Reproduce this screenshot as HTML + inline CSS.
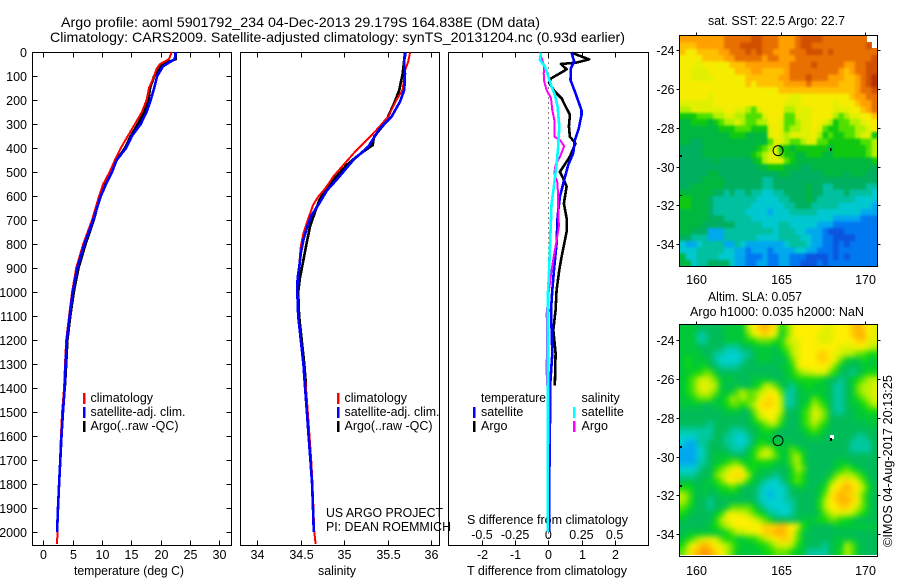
<!DOCTYPE html>
<html lang="en">
<head>
<meta charset="utf-8">
<title>Argo profile 5901792_234</title>
<style>
html,body{margin:0;padding:0;background:#fff;}
svg{display:block;font-family:"Liberation Sans",Arial,sans-serif;fill:#000;}
text{font-size:12.5px;}
</style>
</head>
<body>
<svg id="figure" width="900" height="580" viewBox="0 0 900 580" xmlns="http://www.w3.org/2000/svg">
  <defs>
    <clipPath id="sstClip"><rect x="680" y="36" width="197" height="230.5"/></clipPath>
    <clipPath id="slaClip"><rect x="680" y="325" width="197" height="230"/></clipPath>
    <filter id="sstBlur" filterUnits="userSpaceOnUse" x="660" y="16" width="240" height="270" color-interpolation-filters="sRGB"><feGaussianBlur stdDeviation="1.4"/></filter>
    <filter id="slaBlur" filterUnits="userSpaceOnUse" x="660" y="305" width="240" height="270" color-interpolation-filters="sRGB"><feGaussianBlur stdDeviation="2.8"/></filter>
  </defs>
  <rect x="0" y="0" width="900" height="580" fill="#fff"/>
  <text x="61" y="27" style="font-size:14px" textLength="479" lengthAdjust="spacingAndGlyphs">Argo profile: aoml 5901792_234 04-Dec-2013 29.179S 164.838E (DM data)</text>
  <text x="50" y="42" style="font-size:14px" textLength="575" lengthAdjust="spacingAndGlyphs">Climatology: CARS2009. Satellite-adjusted climatology: synTS_20131204.nc (0.93d earlier)</text>
  <text x="74" y="575" textLength="110" lengthAdjust="spacingAndGlyphs">temperature (deg C)</text>
  <text x="318" y="575" textLength="38" lengthAdjust="spacingAndGlyphs">salinity</text>
  <text x="467" y="575" textLength="160" lengthAdjust="spacingAndGlyphs">T difference from climatology</text>
  <text x="467" y="524" textLength="161" lengthAdjust="spacingAndGlyphs">S difference from climatology</text>
  <text x="326" y="517" textLength="117" lengthAdjust="spacingAndGlyphs">US ARGO PROJECT</text>
  <text x="326" y="531" textLength="125" lengthAdjust="spacingAndGlyphs">PI: DEAN ROEMMICH</text>
  <text x="90.5" y="402">climatology</text>
  <text x="90.5" y="416" textLength="95" lengthAdjust="spacingAndGlyphs">satellite-adj. clim.</text>
  <text x="90.5" y="430" textLength="88" lengthAdjust="spacingAndGlyphs">Argo(..raw -QC)</text>
  <text x="344.5" y="402">climatology</text>
  <text x="344.5" y="416" textLength="95" lengthAdjust="spacingAndGlyphs">satellite-adj. clim.</text>
  <text x="344.5" y="430" textLength="88" lengthAdjust="spacingAndGlyphs">Argo(..raw -QC)</text>
  <text x="481" y="402" textLength="65" lengthAdjust="spacingAndGlyphs">temperature</text>
  <text x="481" y="416">satellite</text>
  <text x="481" y="430">Argo</text>
  <text x="581.5" y="402">salinity</text>
  <text x="581.5" y="416">satellite</text>
  <text x="581.5" y="430">Argo</text>
  <text x="708" y="25" textLength="137" lengthAdjust="spacingAndGlyphs">sat. SST: 22.5  Argo: 22.7</text>
  <text x="708" y="301" textLength="94" lengthAdjust="spacingAndGlyphs">Altim. SLA: 0.057</text>
  <text x="690" y="316" textLength="174" lengthAdjust="spacingAndGlyphs">Argo h1000: 0.035 h2000: NaN</text>
  <text transform="translate(892 547) rotate(-90)" textLength="172" lengthAdjust="spacingAndGlyphs">©IMOS 04-Aug-2017 20:13:25</text>
</svg>
<script>
// ---- profile data (depth in dbar, temperature in deg C, salinity in psu) ----
const depthTicks = [0,100,200,300,400,500,600,700,800,900,1000,1100,1200,1300,1400,1500,1600,1700,1800,1900,2000];
const tempTicks = [0,5,10,15,20,25,30];
const salTicks = [34,34.5,35,35.5,36];
const tDiffTicks = [-2,-1,0,1,2];
const sDiffTicks = [-0.5,-0.25,0,0.25,0.5];
const sDiffTickLabels = ['-0.5','-0.25','0','0.25','0.5'];
const lonTicks = [160,165,170];
const latTicks = [-24,-26,-28,-30,-32,-34];
const argoLon = 164.838;
const argoLat = -29.179;

const climDepth = [0,30,50,70,100,150,200,250,300,350,400,450,500,550,600,700,800,900,1000,1100,1200,1300,1400,1500,1600,1700,1800,1900,2000,2050];
const climTemp = [21.9,21.4,19.9,19.3,18.9,18,17.6,16.8,15.6,14.4,13.2,12.2,11.3,10.2,9.5,8.3,6.8,5.6,4.9,4.4,3.9,3.7,3.55,3.2,3.0,2.85,2.7,2.5,2.4,2.35];
const satDepth = [0,30,46,60,100,150,200,250,300,350,400,450,500,550,600,700,800,900,1000,1100,1200,1300,1400,1500,1600,1700,1800,1900,2000];
const satTemp = [22.55,22.4,21.3,20.4,19.4,18.9,18.3,17.6,16.6,15.1,14.1,12.5,11.7,10.7,9.8,8.5,7.0,5.8,5.0,4.5,4.0,3.8,3.65,3.35,3.1,2.9,2.7,2.5,2.35];
const argoTempDepth = [0,30,50,100,150,200,250,300,350,400,450,500,550,600,700,800,900,1000,1100,1200,1300,1390];
const argoTemp = [22.55,22.55,20.4,18.9,18.2,17.9,17.2,16.1,14.9,13.9,12.5,11.5,10.5,9.7,8.6,7.2,6.0,5.2,4.6,4.1,3.9,3.7];

const climSalDepth = [3,40,75,158,200,269,325,367,408,471,519,569,603,638,693,756,811,853,936,1000,1100,1200,1300,1400,1500,1600,1700,1800,1900,2000,2050];
const climSal = [35.755,35.735,35.70,35.67,35.60,35.505,35.37,35.257,35.142,34.99,34.874,34.78,34.70,34.64,34.587,34.53,34.50,34.49,34.47,34.46,34.47,34.5,34.53,34.56,34.58,34.6,34.62,34.635,34.645,34.655,34.67];
const satSalDepth = [3,40,89,158,207,269,318,394,450,499,540,575,638,679,721,783,839,894,943,1000,1100,1200,1300,1400,1500,1600,1700,1800,1900,2000];
const satSal = [35.705,35.686,35.698,35.69,35.64,35.544,35.41,35.276,35.104,34.99,34.893,34.805,34.70,34.625,34.58,34.53,34.50,34.483,34.463,34.46,34.47,34.5,34.53,34.55,34.57,34.59,34.61,34.63,34.64,34.65];
const argoSalDepth = [3,89,158,214,297,353,388,415,436,471,526,561,617,679,728,797,867,943,1000,1100,1200,1300,1390];
const argoSal = [35.698,35.671,35.632,35.572,35.468,35.342,35.326,35.219,35.142,35.027,34.893,34.805,34.713,34.652,34.606,34.567,34.53,34.49,34.47,34.48,34.51,34.54,34.56];

const diffArgoTDepth = [3,31,44,50,72,85,110,128,165,193,221,262,311,353,381,436,499,526,561,631,693,749,853,908,992,1075,1158,1255,1380,1390];
const diffArgoT = [0.70,1.23,0.85,0.38,0.55,0.40,0.08,0.02,0.20,0.40,0.50,0.65,0.62,0.65,0.82,0.65,0.35,0.45,0.55,0.47,0.55,0.55,0.40,0.33,0.25,0.22,0.15,0.22,0.2,0.2];
const diffSatTDepth = [3,40,68,117,165,242,262,318,367,422,471,533,603,686,797,894,992,1075,1255,1380,1725,1735,2000];
const diffSatT = [0.70,0.78,0.68,0.67,0.80,1.0,1.0,0.92,0.80,0.75,0.60,0.48,0.35,0.28,0.25,0.18,0.12,0.08,0.12,0.06,0.04,0.02,0.02];
const diffArgoSDepth = [19,58,89,124,158,193,242,283,353,367,392,436,471,506,547,644,728,783,839,908,992,1088,1200,1300,1390];
const diffArgoS = [-0.055,-0.03,-0.035,-0.03,-0.013,0.02,0.03,0.045,0.045,0.088,0.12,0.088,0.055,0.045,0.07,0.075,0.08,0.063,0.045,0.025,0.005,-0.012,-0.01,-0.012,-0.011];
const diffSatSDepth = [3,33,61,103,144,179,228,311,394,464,547,631,728,811,922,1000,1400,2000];
const diffSatS = [-0.055,-0.063,-0.025,0,0.025,0.05,0.07,0.083,0.075,0.063,0.045,0.025,0.018,0.013,0.005,-0.002,-0.002,-0.003];

// ---- map grids: each character is one colour level (0 cold/low ... g warm/high) ----
const sstRows = [
"ddddddddeeeeeffeeedddeffffeeeeeeeeee",
"cccdddddeeeffffeeedddeffeeeeeeeeeefe",
"cbbccccddeeefefeedddeeefffefeeeeeeee",
"bbbbccccddeeeeedeedddeeeeeeeeeeeeeef",
"bbbabbbbbcccddddddddeeeefeeeeeddeeff",
"bbaaabbbbbcccddccccdeeeeeeeeedcdeeff",
"bbaaaabbbbbbccccccddeeefeeedddccdefg",
"bbbbbbbbbbbbcbcccccddddedddddcccdefg",
"bbbbbbbbbbbbbbbbbbccccccccccccccdeef",
"bbbbbabbbbbbbbbbbbbbaabbbbbbbbbcddee",
"aaaaaabbbbbbbbbbbbbaaabbbbbbabbbcdde",
"99aaaaaabbaa98abbbb99aaabbbbaaabbcde",
"77788899aa99888abbb88aaabbbb989aabbc",
"6677767899a98899bba889aabba978899abb",
"6666666777888777aba899aaba87788899ab",
"6666666667776666aba9aaaab97877889aa7",
"66556666666666668aa9889aa88777777889",
"55556666666666789a776777777677777789",
"5555666666666789aa877667776677777789",
"5555556555555679aaa87666666666666667",
"555555555555556677766655666666666665",
"555556655555555555665555556666566655",
"555566665555555445555555555555555555",
"556666665555555445555556554455555544",
"666666554544544334455556554444544443",
"776665444444443333445556544444443333",
"776665444444433333344555444443333332",
"666665444444333323334444433333333222",
"666665554444433333333333333322222111",
"666655555544444333443333322211111111",
"665552224444444443444332221000111111",
"554442224444443333444433221100001111",
"322344442243222222234443221101011111",
"333444443322122212222332211101111111",
"633444433322111211221110000101011111",
"663445555322112211221100010111111111"
];
const slaRows = [
"6665555566669bcdcb78abbbbbaabbbcdcba",
"6664455566668abcba68abbbbaaabbbcddba",
"66644555666677888779aabbbaaabbbbccaa",
"666555554445566665789abbbbbbbaaabba9",
"666655443334456665679abbbccbaa998877",
"676665433334556665568abbbccba8665766",
"676675544445555555667abbbbba86555666",
"667788655555555555567899aaa875545677",
"6789a9866655566665566777776554567899",
"678aaa965565567998654667666544 56899a".replace(' ',''),
"6789a986668988 9abb844566666544 56899a".replace(/ /g,''),
"66788866798988abcb944566876544 56789a".replace(' ',''),
"66665566788789bccb944567987544566789",
"55555555666558abbb955578a98544556677",
"555555555555579aba855578a98555556666",
"555554555555567899755578987555555566",
"444444555444556776555567876555555555",
"333444554433456665555556665555554455",
"322445554433457766665555555555544445",
"222345555444578997668765555555544445",
"222345666555679a98668975555555555555",
"222445667887677776668975555566655555",
"333455789aba776665557985555567876555",
"44455589abcb966554557875555689998755",
"56556678aba97654334578755568abcba865",
"776565677875554333345665567abcdcb975",
"986565566665554323345555568bcdcca865",
"986554555555554333344555579bcddcb865",
"876554556888875433334555579bbccb9865",
"765555 67abaa987644334555 5689aaa98765".replace(/ /g,''),
"65555579abbbba9875555566677887765555",
"555556789abbbbbcccdcba76555566666666",
"566666667899aabccddcb865555555555555",
"6789aaa877667789abcca865555566665555",
"79bcdcba9876667789aa9765554566986555",
"8acdedcb9866666778887664444567986555"
];

const NS = 'http://www.w3.org/2000/svg';
const svg = document.getElementById('figure');

// axis functions
const yDepth = d => 52 + d * 0.24;
const xTemp = t => 43.3 + t * 5.87;
const xSal = s => 257.3 + (s - 34) * 87;
const xDiffT = t => 548.3 + t * 33.2;
const xDiffS = s => 548.3 + s * 132.6;
const xLon = lon => 696.3 + (lon - 160) * 16.9;
const yLatSst = lat => 50 + (-24 - lat) * 19.43;
const yLatSla = lat => 340 + (-24 - lat) * 19.43;

function add(tag, attrs, parent) {
  const el = document.createElementNS(NS, tag);
  for (const k in attrs) el.setAttribute(k, attrs[k]);
  (parent || svg).appendChild(el);
  return el;
}
function line(name, x1, y1, x2, y2) {
  const el = add('line', {x1:x1, y1:y1, x2:x2, y2:y2, stroke:'#000', 'stroke-width':1, 'shape-rendering':'crispEdges'});
  
  
}
function label(name, x, y, str, anchor) {
  const el = add('text', {x:x, y:y, 'text-anchor':anchor});
  el.textContent = str;
  
  
}
function box(name, x, y, w, h) {
  const el = add('rect', {x:x, y:y, width:w, height:h, fill:'none', stroke:'#000', 'stroke-width':1, 'shape-rendering':'crispEdges'});
  
  
}
function series(name, xs, ds, xf, color, width) {
  const pts = xs.map((v, i) => xf(v).toFixed(1) + ',' + yDepth(ds[i]).toFixed(1)).join(' ');
  const el = add('polyline', {points:pts, fill:'none', stroke:color, 'stroke-width':width, 'shape-rendering':'crispEdges', 'stroke-linejoin':'round'});
  
  
}
function legendBar(name, x, y, color) {
  const el = add('rect', {x:x, y:y, width:2.3, height:11, fill:color, 'shape-rendering':'crispEdges'});
  
  
}

// ---- profile panels ----
const panelTop = 52.5, panelBottom = 545.5;
const panels = [
  {id:'temperature', l:32.5, r:231.5},
  {id:'salinity', l:240.5, r:439.5},
  {id:'difference', l:448.5, r:648.5}
];
panels.forEach(p => box(p.id + '-panel-frame', p.l, panelTop, p.r - p.l, panelBottom - panelTop));

depthTicks.forEach(d => {
  const y = Math.round(yDepth(d)) + 0.5;
  line('depth-tick-left-' + d, 32.5, y, 37.5, y);
  line('depth-tick-right-' + d, 226.5, y, 231.5, y);
  label('depth-label-' + d, 27, y + 4.5, String(d), 'end');
});
tempTicks.forEach(t => {
  const x = Math.round(xTemp(t)) + 0.5;
  line('temp-tick-top-' + t, x, panelTop, x, panelTop + 5);
  line('temp-tick-bottom-' + t, x, panelBottom - 5, x, panelBottom);
  label('temp-label-' + t, x, 559, String(t), 'middle');
});
salTicks.forEach(s => {
  const x = Math.round(xSal(s)) + 0.5;
  line('sal-tick-top-' + s, x, panelTop, x, panelTop + 5);
  line('sal-tick-bottom-' + s, x, panelBottom - 5, x, panelBottom);
  label('sal-label-' + s, x, 559, String(s), 'middle');
});
tDiffTicks.forEach(t => {
  const x = Math.round(xDiffT(t)) + 0.5;
  line('tdiff-tick-top-' + t, x, panelTop, x, panelTop + 5);
  line('tdiff-tick-bottom-' + t, x, panelBottom - 5, x, panelBottom);
  label('tdiff-label-' + t, x, 559, String(t), 'middle');
});
sDiffTicks.forEach((s, i) => {
  label('sdiff-label-' + i, xDiffS(s), 539, sDiffTickLabels[i], 'middle');
});

// zero reference in the difference panel
const zeroLine = add('line', {x1:xDiffT(0), y1:panelTop, x2:xDiffT(0), y2:panelBottom, stroke:'#000', 'stroke-width':1, 'stroke-dasharray':'1 4', 'shape-rendering':'crispEdges'});



// temperature profiles
series('temp-argo-line', argoTemp, argoTempDepth, xTemp, '#000', 2.6);
series('temp-climatology-line', climTemp, climDepth, xTemp, '#f00', 2);
series('temp-satellite-line', satTemp, satDepth, xTemp, '#00f', 2.6);
// salinity profiles
series('sal-argo-line', argoSal, argoSalDepth, xSal, '#000', 2.6);
series('sal-climatology-line', climSal, climSalDepth, xSal, '#f00', 2);
series('sal-satellite-line', satSal, satSalDepth, xSal, '#00f', 2.6);
// difference profiles
series('diff-t-argo-line', diffArgoT, diffArgoTDepth, xDiffT, '#000', 2.6);
series('diff-t-satellite-line', diffSatT, diffSatTDepth, xDiffT, '#00f', 2.6);
series('diff-s-argo-line', diffArgoS, diffArgoSDepth, xDiffS, '#f0f', 2);
series('diff-s-satellite-line', diffSatS, diffSatSDepth, xDiffS, '#0ff', 2.6);

// legend swatches
legendBar('legend-swatch-temp-climatology', 83, 393, '#f00');
legendBar('legend-swatch-temp-satellite', 83, 407, '#00f');
legendBar('legend-swatch-temp-argo', 83, 421, '#000');
legendBar('legend-swatch-sal-climatology', 337, 393, '#f00');
legendBar('legend-swatch-sal-satellite', 337, 407, '#00f');
legendBar('legend-swatch-sal-argo', 337, 421, '#000');
legendBar('legend-swatch-diff-t-satellite', 473, 407, '#00f');
legendBar('legend-swatch-diff-t-argo', 473, 421, '#000');
legendBar('legend-swatch-diff-s-satellite', 573, 407, '#0ff');
legendBar('legend-swatch-diff-s-argo', 573, 421, '#f0f');

// ---- maps ----
function levelColor(code, isSla) {
  const ramp = ['#0a55e0','#0078f0','#00a8ee','#00c8d0','#00c0a0','#00b060','#00b840','#10c810','#50e000','#b0f000','#e0f000','#f6ec00','#ffc000','#ffa000','#e87000','#d05000','#b83000'];
  const slaRamp = ['#0a55e0','#0078f0','#00a8ee','#00d0d0','#00c8a0','#00bc58','#00c838','#10d810','#60e400','#b8f000','#e0f000','#fff000','#ffd000','#ffb000','#ff9000','#e87000','#d05000'];
  return isSla ? slaRamp[code] : ramp[code];
}
function heatmap(name, rows, x0, y0, w, h, clipId, filterId, isSla) {
  const outer = add('g', {'clip-path':'url(#' + clipId + ')'});
  
  
  const inner = add('g', {filter:'url(#' + filterId + ')'}, outer);
  
  
  const ch = h / rows.length;
  rows.forEach((row, r) => {
    const cw = w / row.length;
    for (let c = 0; c < row.length; c++) {
      const code = parseInt(row[c], 36);
      // border cells bleed past the clip so the blur does not fade at the frame
      const pad = 10;
      const px0 = c === 0 ? pad : 0, px1 = c === row.length - 1 ? pad : 0;
      const py0 = r === 0 ? pad : 0, py1 = r === rows.length - 1 ? pad : 0;
      const cell = add('rect', {x:(x0 + c * cw - px0).toFixed(2), y:(y0 + r * ch - py0).toFixed(2), width:(cw + 0.5 + px0 + px1).toFixed(2), height:(ch + 0.5 + py0 + py1).toFixed(2), fill:levelColor(code, isSla), 'shape-rendering':'crispEdges'}, inner);
      
      
    }
  });
}
function mapFrame(name, frameTop, frameBottom, yLat, lonLabelY) {
  box(name + '-frame', 679.5, frameTop, 198, frameBottom - frameTop);
  lonTicks.forEach(lon => {
    const x = Math.round(xLon(lon)) + 0.5;
    line(name + '-lon-tick-' + lon, x, frameTop - 3, x, frameTop);
    label(name + '-lon-label-' + lon, x, lonLabelY, String(lon), 'middle');
  });
  latTicks.forEach(lat => {
    const y = Math.round(yLat(lat)) + 0.5;
    line(name + '-lat-tick-left-' + lat, 676.5, y, 679.5, y);
    line(name + '-lat-tick-right-' + lat, 877.5, y, 880.5, y);
    label(name + '-lat-label-' + lat, 674.5, y + 4.5, String(lat), 'end');
  });
}
function speck(name, x, y, w, h, color) {
  const el = add('rect', {x:x, y:y, width:w, height:h, fill:color, 'shape-rendering':'crispEdges'});
  
  
}
function marker(name, yLat) {
  const el = add('circle', {cx:xLon(argoLon), cy:yLat(argoLat), r:5, fill:'none', stroke:'#000', 'stroke-width':1});
  
  
}

heatmap('sst-map', sstRows, 680, 36, 197, 230.5, 'sstClip', 'sstBlur', false);
speck('sst-map-no-data-corner-1', 867, 36, 10, 6, '#fff');
speck('sst-map-no-data-corner-2', 872, 42, 5, 6, '#fff');
speck('sst-map-coast-speck-1', 830, 148, 1.5, 3, '#000');
speck('sst-map-coast-speck-2', 680, 155, 2, 2, '#000');
speck('sst-map-coast-speck-3', 680, 195, 2, 1, '#000');
mapFrame('sst-map', 35.5, 266.5, yLatSst, 284);
marker('sst-argo-location-marker', yLatSst);

heatmap('sla-map', slaRows, 680, 325, 197, 230, 'slaClip', 'slaBlur', true);
speck('sla-map-white-cell', 830, 435, 4, 4, '#fff');
speck('sla-map-coast-speck-1', 830, 438, 2, 3, '#000');
speck('sla-map-coast-speck-2', 680, 446, 2, 2, '#000');
speck('sla-map-coast-speck-3', 680, 485, 2, 2, '#000');
mapFrame('sla-map', 324.5, 556.5, yLatSla, 575);
marker('sla-argo-location-marker', yLatSla);
</script>
</body>
</html>
